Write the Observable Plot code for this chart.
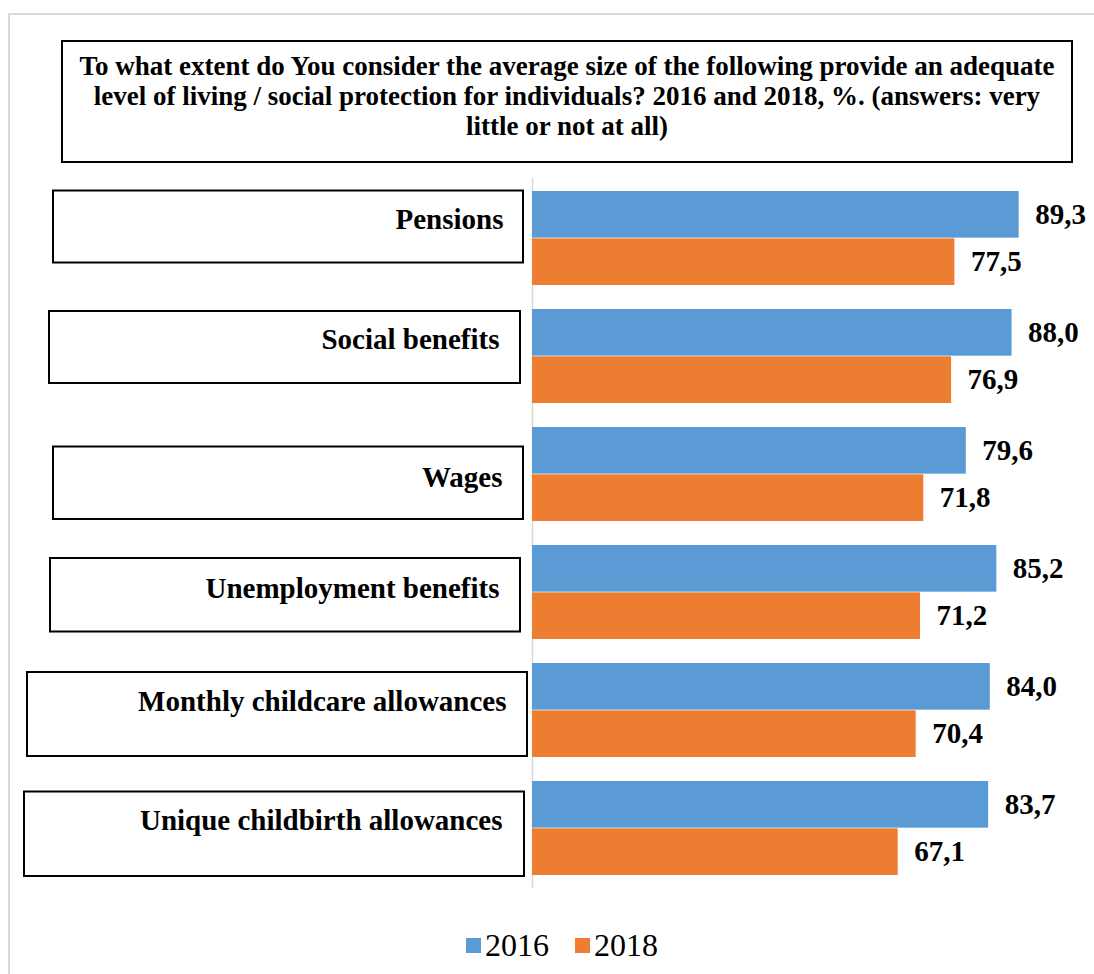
<!DOCTYPE html>
<html>
<head>
<meta charset="utf-8">
<script src="https://cdn.jsdelivr.net/npm/d3@7"></script>
<script src="https://cdn.jsdelivr.net/npm/@observablehq/plot@0.6"></script>
<style>
  html, body { margin: 0; padding: 0; background: #fff; }
  #page { position: relative; width: 1094px; height: 974px; overflow: hidden;
          font-family: 'Liberation Serif', 'Times New Roman', serif; color: #000; }
  #outer { position: absolute; left: 8px; top: 13px; width: 1200px; height: 1200px;
           border-left: 2px solid #d9d9d9; border-top: 2px solid #d9d9d9; }
  #title { position: relative; margin: 40px 0 0 61px; width: 1012px; height: 123px;
           box-sizing: border-box; border: 2px solid #000; padding-top: 9px;
           text-align: center; font-weight: bold; font-size: 27px; line-height: 30px; }
  #chart { position: relative; }
  #chart svg { display: block; }
  #legend { position: relative; display: flex; align-items: center; height: 40px; margin-top: 20px;
            padding-left: 466px; font-size: 32px; line-height: 32px; }
  .sw { width: 15px; height: 15px; margin-right: 4px; }
  .gap { width: 26px; }
</style>
</head>
<body>
<div id="page">
  <div id="outer"></div>
  <div id="title">To what extent do You consider the average size of the following provide an adequate<br>level of living / social protection for individuals? 2016 and 2018, %. (answers: very<br>little or not at all)</div>
  <div id="chart"></div>
  <div id="legend"></div>
</div>
<script>
// ---- data ----
const categories = [
  "Pensions",
  "Social benefits",
  "Wages",
  "Unemployment benefits",
  "Monthly childcare allowances",
  "Unique childbirth allowances"
];
const years = ["2016", "2018"];
const values2016 = [89.3, 88.0, 79.6, 85.2, 84.0, 83.7];
const values2018 = [77.5, 76.9, 71.8, 71.2, 70.4, 67.1];

// ---- style / layout ----
const colors = ["#5B9BD5", "#ED7D31"];
const fontFamily = "'Liberation Serif', 'Times New Roman', serif";
const W = 1094, H = 742, mT = 15, mB = 17, mL = 532, mR = 17;
const pInner = 0.2, pOuter = 0.1;
const step = (H - mT - mB) / (categories.length - pInner + 2 * pOuter);
const bw = step * (1 - pInner);
// label box insets (relative to the category band and the zero line), per category
const boxLayout = [
  {insetTop: -0.5, insetBottom: 22.5, insetLeft: -479, insetRight: 9,  dx: -29, dy: -19},
  {insetTop: 2,    insetBottom: 20,   insetLeft: -483, insetRight: 12, dx: -33, dy: -16.5},
  {insetTop: 19.5, insetBottom: 2,    insetLeft: -479, insetRight: 9,  dx: -30, dy: 3},
  {insetTop: 13,   insetBottom: 7.5,  insetLeft: -482, insetRight: 12, dx: -33, dy: -4},
  {insetTop: 9,    insetBottom: 1,    insetLeft: -505, insetRight: 5,  dx: -26, dy: -9},
  {insetTop: 10.5, insetBottom: -1,   insetLeft: -508, insetRight: 8,  dx: -30, dy: -7.5}
];

const rows = years.flatMap((yr, j) =>
  categories.map((c, i) => ({category: c, year: yr, value: (j === 0 ? values2016 : values2018)[i]})));
const fmt = v => d3.format(".1f")(v).replace(".", ",");

const marks = [
  Plot.ruleX([0], {stroke: "#d9d9d9", strokeWidth: 1.5}),
  ...categories.map((c, i) => Plot.barX([c], {
    y: d => d, x1: () => 0, x2: () => 0,
    fill: "none", stroke: "#000", strokeWidth: 2,
    insetTop: boxLayout[i].insetTop, insetBottom: boxLayout[i].insetBottom,
    insetLeft: boxLayout[i].insetLeft, insetRight: boxLayout[i].insetRight
  })),
  ...categories.map((c, i) => Plot.text([c], {
    y: d => d, x: () => 0, text: d => d,
    textAnchor: "end", dx: boxLayout[i].dx, dy: boxLayout[i].dy,
    fontSize: 29, fontWeight: "bold", fontFamily, fill: "#000"
  })),
  Plot.barX(rows.filter(d => d.year === years[0]), {x: "value", y: "category", fill: "year", insetBottom: bw / 2}),
  Plot.barX(rows.filter(d => d.year === years[1]), {x: "value", y: "category", fill: "year", insetTop: bw / 2}),
  Plot.text(rows.filter(d => d.year === years[0]), {
    x: "value", y: "category", text: d => fmt(d.value), dx: 16, dy: -bw / 4,
    textAnchor: "start", fontSize: 29, fontWeight: "bold", fontFamily, fill: "#000"
  }),
  Plot.text(rows.filter(d => d.year === years[1]), {
    x: "value", y: "category", text: d => fmt(d.value), dx: 16, dy: bw / 4,
    textAnchor: "start", fontSize: 29, fontWeight: "bold", fontFamily, fill: "#000"
  })
];

const chart = Plot.plot({
  width: W, height: H,
  marginTop: mT, marginBottom: mB, marginLeft: mL, marginRight: mR,
  x: {domain: [0, 100], axis: null},
  y: {domain: categories, paddingInner: pInner, paddingOuter: pOuter, axis: null},
  color: {domain: years, range: colors},
  style: {fontFamily, background: "transparent", overflow: "visible"},
  marks
});
document.getElementById("chart").appendChild(chart);

// legend
const legend = d3.select("#legend");
years.forEach((yr, i) => {
  if (i > 0) legend.append("div").attr("class", "gap");
  legend.append("div").attr("class", "sw").style("background", colors[i]);
  legend.append("span").text(yr);
});
</script>
</body>
</html>
